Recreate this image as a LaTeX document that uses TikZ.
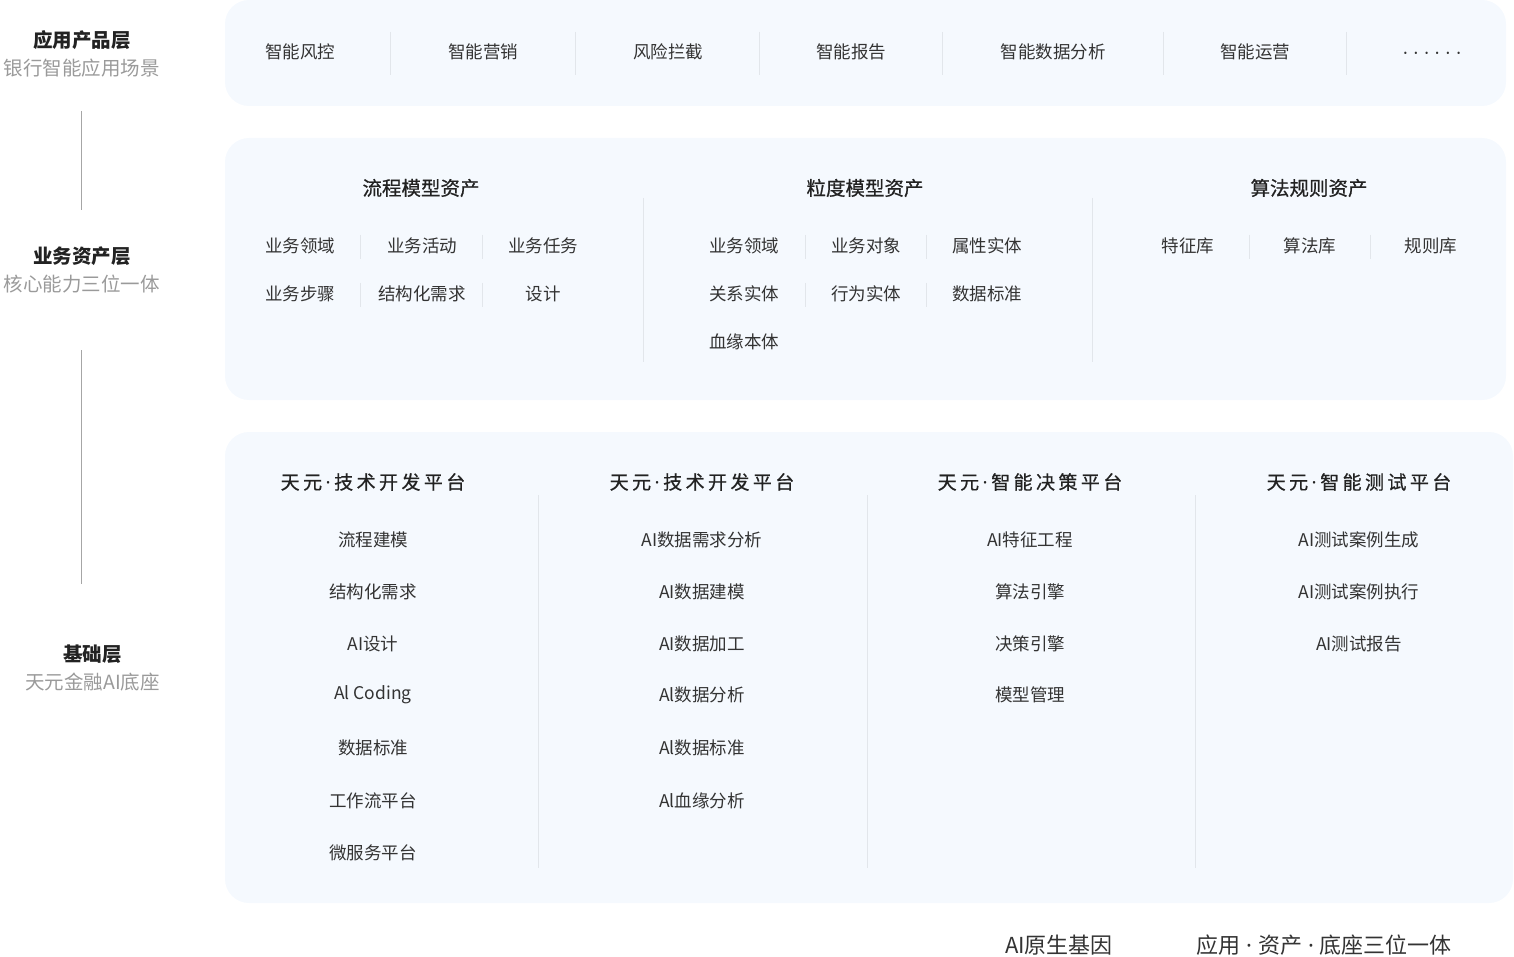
\documentclass[tikz,border=0pt]{standalone}
\usepackage{fontspec}
\setmainfont{Noto Sans CJK SC}
\newfontfamily\medfont[FakeBold=0.7]{Noto Sans CJK SC}
\newfontfamily\platfont[FakeBold=0.7,LetterSpace=18]{Noto Sans CJK SC}
\newfontfamily\latinfont{Noto Sans}
\newfontfamily\dotfont[LetterSpace=34]{Noto Sans}
\newcommand{\middot}[1][3.5pt]{{\latinfont\kern#1·\kern#1}}
\usetikzlibrary{positioning}
\definecolor{panelbg}{HTML}{F5F9FE}
\definecolor{sepline}{HTML}{E2E6EB}
\definecolor{itemtxt}{HTML}{333333}
\definecolor{subtxt}{HTML}{9A9A9A}
\definecolor{headtxt}{HTML}{222222}
\begin{document}
\begin{tikzpicture}[x=1pt, y=-1pt,
    panel/.style={fill=panelbg, rounded corners=24pt},
    sep/.style={draw=sepline, line width=1pt},
    item/.style={text=itemtxt, inner sep=0pt, font=\fontsize{17.5}{20}\selectfont},
    head/.style={text=headtxt, inner sep=0pt, font=\fontsize{19.5}{22}\medfont},
    plat/.style={text=headtxt, inner sep=0pt, font=\fontsize{19}{22}\platfont},
    layer/.style={anchor=east, align=center, inner sep=0pt, text=headtxt,
      font=\fontsize{19.5}{28}\selectfont}]
  \useasboundingbox (0,0) rectangle (1514,957);

  % panels
  \fill[panel] (225,0) rectangle (1506,106);
  \fill[panel] (225,138) rectangle (1506,400);
  \fill[panel] (225,432) rectangle (1513,903);

  % layer labels
  \node[layer] (app) at (160,54) {{\bfseries 应用产品层}\\
    {\color{subtxt}银行智能应用场景}};
  \node[layer] (asset) at (160,270) {{\bfseries 业务资产层}\\
    {\color{subtxt}核心能力三位一体}};
  \node[layer] (base) at (160,668) {{\bfseries 基础层}\\
    {\color{subtxt}天元金融AI底座}};
  \coordinate (l1a) at (81,111);
  \coordinate (l1b) at (81,210);
  \coordinate (l2a) at (81,350);
  \coordinate (l2b) at (81,584);
  \draw[black!35, line width=1pt] (l1a) -- (l1b);
  \draw[black!35, line width=1pt] (l2a) -- (l2b);

  % application layer
  \foreach \t/\x [count=\i] in {智能风控/300, 智能营销/483, 风险拦截/668, 智能报告/851,
      智能数据分析/1053, 智能运营/1255}
    \node[item] (scene\i) at (\x,52) {\t};
  \node[item, font=\fontsize{17.5}{20}\dotfont] (scene7) at (1432,56) {······};
  \foreach \x in {390,575,759,942,1163,1346}
    \draw[sep] (\x,32) -- (\x,75);

  % asset layer
  \node[head] (proc) at (421,188) {流程模型资产};
  \node[head] (gran) at (865,188) {粒度模型资产};
  \node[head] (algo) at (1309,188) {算法规则资产};
  \foreach \x in {643,1092}
    \draw[sep] (\x,198) -- (\x,362);

  \foreach \t/\x/\y [count=\i] in {业务领域/300/246, 业务活动/422/246, 业务任务/543/246,
      业务步骤/300/294, 结构化需求/422/294, 设计/543/294}
    \node[item] (proc\i) at (\x,\y) {\t};
  \foreach \t/\x/\y [count=\i] in {业务领域/744/246, 业务对象/866/246, 属性实体/987/246,
      关系实体/744/294, 行为实体/866/294, 数据标准/987/294, 血缘本体/744/342}
    \node[item] (gran\i) at (\x,\y) {\t};
  \foreach \t/\x [count=\i] in {特征库/1188, 算法库/1310, 规则库/1431}
    \node[item] (algo\i) at (\x,246) {\t};
  \foreach \x in {360,482,805,926}{
    \draw[sep] (\x,235) -- (\x,259);
    \draw[sep] (\x,283) -- (\x,307);
  }
  \foreach \x in {1249,1370}
    \draw[sep] (\x,235) -- (\x,259);

  % base layer
  \node[plat] (dev1) at (373,482) {天元\middot 技术开发平台};
  \node[plat] (dev2) at (702,482) {天元\middot 技术开发平台};
  \node[plat] (dec) at (1030,482) {天元\middot 智能决策平台};
  \node[plat] (tst) at (1359,482) {天元\middot 智能测试平台};
  \foreach \x in {538,867,1195}
    \draw[sep] (\x,495) -- (\x,868);

  \foreach \t/\y [count=\i] in {流程建模/540, 结构化需求/592, AI设计/644, Al Coding/695,
      数据标准/748, 工作流平台/801, 微服务平台/853}
    \node[item] (dev1\i) at (373,\y) {\t};
  \foreach \t/\y [count=\i] in {AI数据需求分析/540, AI数据建模/592, AI数据加工/644,
      Al数据分析/695, Al数据标准/748, Al血缘分析/801}
    \node[item] (dev2\i) at (702,\y) {\t};
  \foreach \t/\y [count=\i] in {AI特征工程/540, 算法引擎/592, 决策引擎/644, 模型管理/695}
    \node[item] (dec\i) at (1030,\y) {\t};
  \foreach \t/\y [count=\i] in {AI测试案例生成/540, AI测试案例执行/592, AI测试报告/644}
    \node[item] (tst\i) at (1359,\y) {\t};

  % footer
  \node[text=itemtxt, inner sep=0pt, font=\fontsize{22}{26}\selectfont] (gene) at (1059,945) {AI原生基因};
  \node[text=itemtxt, inner sep=0pt, font=\fontsize{22}{26}\selectfont] (trio) at (1324,945) {应用\middot[6pt]资产\middot[6pt]底座三位一体};
\end{tikzpicture}
\end{document}
